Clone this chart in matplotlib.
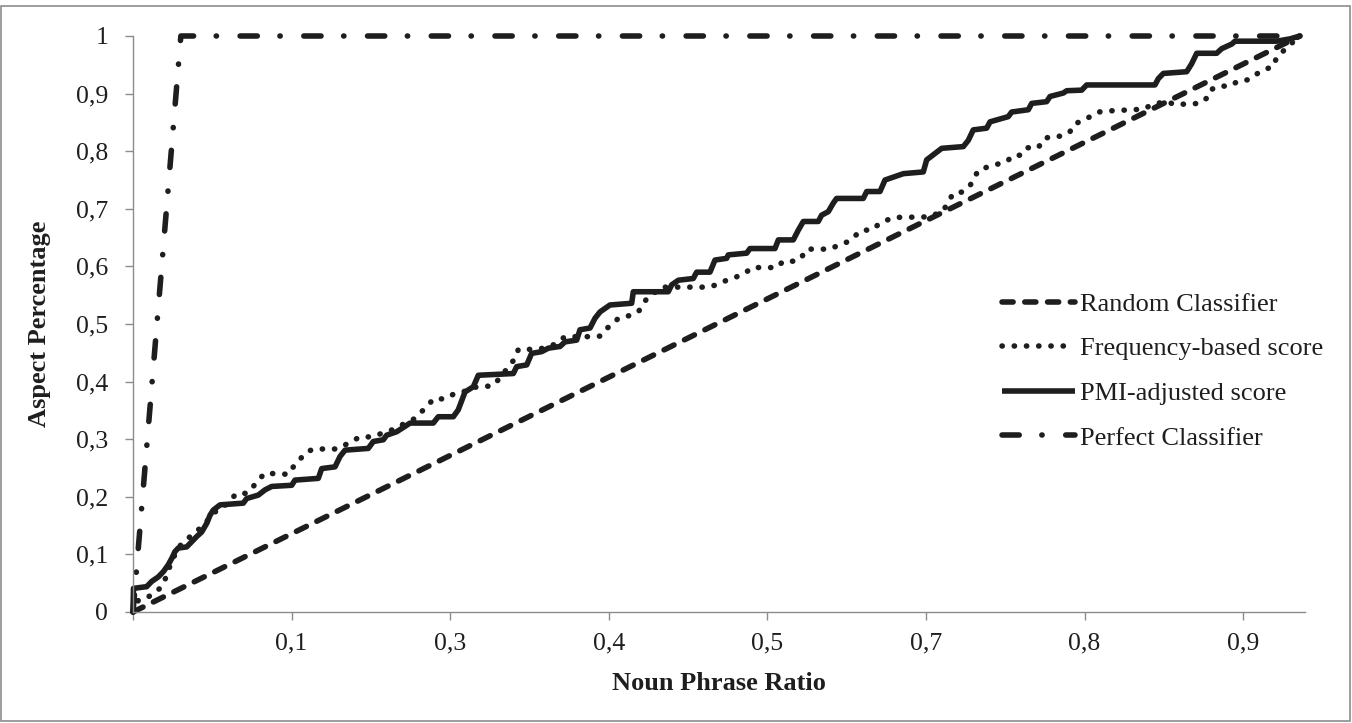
import matplotlib.pyplot as plt
from matplotlib.patches import Rectangle

# noun phrase ratio (x) and aspect percentage (y) for each curve
random_x = [0.0, 1.0]
random_y = [0.0, 1.0]

freq_x = [0.0, 0.0045, 0.0117, 0.0231, 0.0283, 0.0334, 0.0403, 0.0506, 0.0591, 0.0643,
          0.0686, 0.0763, 0.0846, 0.0889, 0.0974, 0.1031, 0.1074, 0.1131, 0.1331, 0.1374,
          0.1416, 0.1474, 0.1545, 0.1745, 0.1817, 0.1945, 0.2045, 0.2217, 0.2416, 0.2474,
          0.253, 0.2573, 0.2674, 0.2745, 0.283, 0.2888, 0.2973, 0.3074, 0.313, 0.3273,
          0.3302, 0.3402, 0.353, 0.3616, 0.3702, 0.3902, 0.4002, 0.4045, 0.4116, 0.4159,
          0.4244, 0.433, 0.4402, 0.453, 0.493, 0.5016, 0.5087, 0.5173, 0.5244, 0.5302,
          0.5516, 0.5572, 0.5686, 0.5729, 0.5773, 0.5973, 0.6058, 0.6129, 0.6187, 0.6244,
          0.633, 0.6401, 0.6515, 0.683, 0.6944, 0.7029, 0.7101, 0.7172, 0.7244, 0.7329,
          0.7487, 0.7543, 0.7601, 0.7658, 0.7758, 0.78, 0.7872, 0.7958, 0.8029, 0.8072,
          0.8143, 0.8201, 0.8272, 0.8372, 0.8658, 0.8744, 0.8858, 0.8929, 0.9143, 0.92,
          0.9229, 0.9301, 0.94, 0.9472, 0.9558, 0.9672, 0.9771, 0.98, 0.9914, 1.0]
freq_y = [0.0, 0.02, 0.024, 0.041, 0.06, 0.09, 0.115, 0.134, 0.148, 0.16,
          0.172, 0.18, 0.197, 0.206, 0.206, 0.218, 0.229, 0.241, 0.239, 0.252,
          0.261, 0.276, 0.283, 0.283, 0.29, 0.304, 0.304, 0.316, 0.336, 0.348,
          0.359, 0.37, 0.37, 0.378, 0.382, 0.388, 0.392, 0.392, 0.403, 0.44,
          0.456, 0.456, 0.458, 0.465, 0.478, 0.478, 0.479, 0.49, 0.501, 0.51,
          0.514, 0.521, 0.544, 0.564, 0.564, 0.569, 0.576, 0.582, 0.588, 0.598,
          0.598, 0.609, 0.609, 0.616, 0.63, 0.63, 0.638, 0.643, 0.653, 0.663,
          0.663, 0.675, 0.685, 0.686, 0.697, 0.727, 0.729, 0.74, 0.767, 0.773,
          0.782, 0.793, 0.793, 0.806, 0.806, 0.821, 0.826, 0.826, 0.834, 0.848,
          0.853, 0.86, 0.868, 0.87, 0.873, 0.882, 0.886, 0.881, 0.883, 0.892,
          0.906, 0.913, 0.913, 0.922, 0.924, 0.94, 0.947, 0.963, 0.985, 1.0]

pmi_x = [0.0, 0.0004, 0.0117, 0.016, 0.0217, 0.026, 0.0302, 0.0332, 0.036, 0.0388,
         0.046, 0.0503, 0.0546, 0.0589, 0.0632, 0.066, 0.0688, 0.0746, 0.0945, 0.0974,
         0.1074, 0.1131, 0.1189, 0.136, 0.1388, 0.1588, 0.1617, 0.1731, 0.1774, 0.1817,
         0.2016, 0.2059, 0.2145, 0.2174, 0.226, 0.2374, 0.2573, 0.2616, 0.2745, 0.2787,
         0.2845, 0.2916, 0.2959, 0.3259, 0.3288, 0.3374, 0.3416, 0.3502, 0.3559, 0.3659,
         0.3702, 0.3802, 0.383, 0.3916, 0.3959, 0.4002, 0.4087, 0.4273, 0.4287, 0.4587,
         0.4616, 0.4673, 0.4801, 0.483, 0.4944, 0.4987, 0.5087, 0.5101, 0.5259, 0.5287,
         0.5501, 0.553, 0.5658, 0.5701, 0.5744, 0.5872, 0.5901, 0.5958, 0.6001, 0.6029,
         0.6258, 0.6287, 0.6401, 0.6444, 0.6601, 0.6772, 0.6801, 0.6872, 0.693, 0.7115,
         0.7158, 0.72, 0.7315, 0.7344, 0.75, 0.7529, 0.7672, 0.7701, 0.7829, 0.7858,
         0.7972, 0.8001, 0.8129, 0.8172, 0.8757, 0.8786, 0.8829, 0.9029, 0.9072, 0.9115,
         0.9286, 0.9329, 0.9415, 0.9443, 0.98, 0.9914, 1.0]
pmi_y = [0.0, 0.041, 0.044, 0.053, 0.061, 0.07, 0.082, 0.093, 0.105, 0.111,
         0.113, 0.122, 0.131, 0.139, 0.154, 0.168, 0.177, 0.186, 0.189, 0.197,
         0.203, 0.212, 0.218, 0.22, 0.229, 0.232, 0.249, 0.252, 0.27, 0.281,
         0.284, 0.296, 0.299, 0.307, 0.313, 0.328, 0.328, 0.339, 0.339, 0.351,
         0.382, 0.391, 0.411, 0.414, 0.426, 0.429, 0.449, 0.452, 0.458, 0.461,
         0.469, 0.472, 0.49, 0.493, 0.51, 0.521, 0.533, 0.536, 0.556, 0.556,
         0.568, 0.576, 0.579, 0.59, 0.59, 0.611, 0.614, 0.62, 0.623, 0.631,
         0.631, 0.646, 0.646, 0.663, 0.678, 0.678, 0.689, 0.695, 0.71, 0.718,
         0.718, 0.73, 0.73, 0.75, 0.761, 0.764, 0.785, 0.796, 0.805, 0.808,
         0.819, 0.837, 0.84, 0.851, 0.86, 0.868, 0.872, 0.883, 0.886, 0.895,
         0.901, 0.905, 0.906, 0.915, 0.915, 0.926, 0.935, 0.938, 0.952, 0.97,
         0.97, 0.978, 0.986, 0.991, 0.991, 0.995, 1.0]

perfect_x = [0.0, 0.041, 1.0]
perfect_y = [0.0, 1.0, 1.0]

# excel category axis: labels are rounded values of every 0.1359 step
xtick_step = 0.1359
xtick_labels = ["", "0,1", "0,3", "0,4", "0,5", "0,7", "0,8", "0,9"]
ytick_labels = ["0", "0,1", "0,2", "0,3", "0,4", "0,5", "0,6", "0,7", "0,8", "0,9", "1"]

plt.rcParams['font.family'] = ['Liberation Serif', 'DejaVu Serif']
ink = '#1e1e1e'
grey = '#8c8c8c'

fig = plt.figure(figsize=(13.52, 7.23), dpi=100)
ax = fig.add_axes([133 / 1352, 1 - 612 / 723, 1172 / 1352, 576 / 723])

lw = 4.0
ax.plot(random_x, random_y, color=ink, lw=lw, ls=(0, (2.0, 2.1)),
        dash_capstyle='round', clip_on=False, label='Random Classifier')
ax.plot(freq_x, freq_y, color=ink, lw=lw, ls=(0, (0.05, 2.15)),
        dash_capstyle='round', clip_on=False, label='Frequency-based score')
ax.plot(pmi_x, pmi_y, color=ink, lw=lw, solid_capstyle='butt',
        clip_on=False, label='PMI-adjusted score')
ax.plot(perfect_x, perfect_y, color=ink, lw=lw, ls=(0, (3.1, 4.07, 0.05, 4.25)),
        dash_capstyle='round', clip_on=False, label='Perfect Classifier')

ax.set_xlim(0, 1172 / 1167)
ax.set_ylim(0, 1)
ax.set_xticks([k * xtick_step for k in range(len(xtick_labels))])
ax.set_xticklabels(xtick_labels)
ax.set_yticks([k / 10 for k in range(len(ytick_labels))])
ax.set_yticklabels(ytick_labels)

for s in ['top', 'right']:
    ax.spines[s].set_visible(False)
for s in ['left', 'bottom']:
    ax.spines[s].set_color(grey)
    ax.spines[s].set_linewidth(1.0)
ax.tick_params(axis='both', colors=grey, length=5.8, width=1.0, labelsize=18.5,
               labelcolor=ink)
ax.tick_params(axis='x', pad=9)
ax.tick_params(axis='y', pad=12)

ax.set_xlabel('Noun Phrase Ratio', fontsize=19, fontweight='bold', color=ink)
ax.xaxis.set_label_coords(0.5, (612 - 683) / 576)
ax.xaxis.label.set_va('center')
ax.set_ylabel('Aspect Percentage', fontsize=19, fontweight='bold', color=ink)
ax.yaxis.set_label_coords((40 - 133) / 1172, 0.5)
ax.yaxis.label.set_va('center')
ax.yaxis.label.set_ha('center')

ax.legend(loc='center left', bbox_to_anchor=((1002 - 133) / 1172, (612 - 371) / 576),
          frameon=False, fontsize=19, handlelength=2.75, handletextpad=0.22,
          labelspacing=0.8, borderpad=0, borderaxespad=0, labelcolor=ink)

# chart area border
fig.patches.append(Rectangle((1 / 1352, 2 / 723), 1349 / 1352, 715 / 723,
                             transform=fig.transFigure, fill=False,
                             edgecolor=grey, lw=1.2))

fig.savefig('out.png', dpi=100)
